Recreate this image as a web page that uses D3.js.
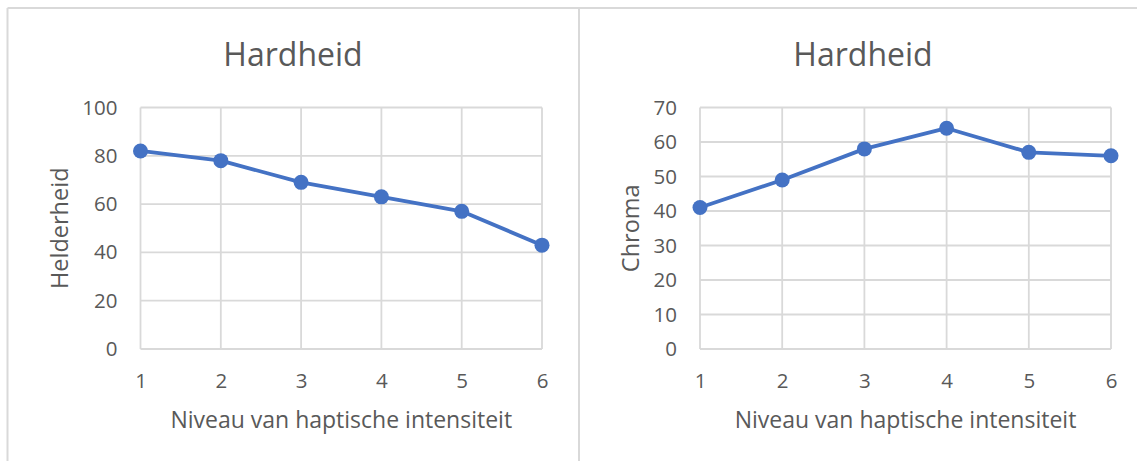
<!DOCTYPE html>
<html>
<head>
<meta charset="utf-8">
<script src="https://cdn.jsdelivr.net/npm/d3@7"></script>
<style>
  html, body { margin: 0; padding: 0; background: #fff; }
  svg { display: block; }
  text { font-family: "Open Sans", Lato, "Liberation Sans", sans-serif; fill: #595959; }
</style>
</head>
<body>
<svg id="chart" width="1137" height="461"></svg>
<script>
// Intensity levels shared by both panels
const levels = [1, 2, 3, 4, 5, 6];
const xTickLabels = ["1", "2", "3", "4", "5", "6"];

// Lightness (Helderheid) per intensity level
const helderheid = [82, 78, 69, 63, 57, 43];
const helderheidTicks = [0, 20, 40, 60, 80, 100];

// Chroma per intensity level
const chroma = [41, 49, 58, 64, 57, 56];
const chromaTicks = [0, 10, 20, 30, 40, 50, 60, 70];

const chartTitle = "Hardheid";
const xTitle = "Niveau van haptische intensiteit";

const svg = d3.select("#chart");
const gridColor = "#d9d9d9";
const lineColor = "#4472c4";
const fontStack = "'Open Sans', Lato, sans-serif";

// Frame around the two panels
svg.append("line").attr("x1", 7.5).attr("x2", 1137).attr("y1", 8).attr("y2", 8)
  .attr("stroke", gridColor).attr("stroke-width", 2);
svg.append("line").attr("x1", 7.5).attr("x2", 7.5).attr("y1", 8).attr("y2", 461)
  .attr("stroke", gridColor).attr("stroke-width", 2);
svg.append("line").attr("x1", 579).attr("x2", 579).attr("y1", 8).attr("y2", 461)
  .attr("stroke", gridColor).attr("stroke-width", 2);

function panel(cfg) {
  const g = svg.append("g");
  const x = d3.scaleLinear().domain([1, 6]).range([cfg.left, cfg.right]);
  const y = d3.scaleLinear().domain([0, cfg.max]).range([349, 107.5]);

  // Title
  g.append("text").attr("x", cfg.titleX).attr("y", 53)
    .attr("text-anchor", "middle").attr("dominant-baseline", "central")
    .attr("font-size", 32).text(chartTitle);

  // Horizontal gridlines
  g.append("g").selectAll("line").data(cfg.ticks).join("line")
    .attr("x1", cfg.left).attr("x2", cfg.right)
    .attr("y1", d => y(d)).attr("y2", d => y(d))
    .attr("stroke", gridColor).attr("stroke-width", 1.8);

  // Vertical gridlines
  g.append("g").selectAll("line").data(levels).join("line")
    .attr("x1", d => x(d)).attr("x2", d => x(d))
    .attr("y1", y(cfg.max)).attr("y2", y(0))
    .attr("stroke", gridColor).attr("stroke-width", 1.8);

  // Y tick labels
  const yAxis = d3.axisLeft(y).tickValues(cfg.ticks).tickSize(0).tickPadding(0);
  const ya = g.append("g").attr("transform", `translate(${cfg.left - 23},0)`).call(yAxis);
  ya.select(".domain").remove();
  ya.selectAll("text").attr("font-size", 20.5).attr("fill", "#595959")
    .attr("font-family", fontStack);

  // X tick labels
  const xAxis = d3.axisBottom(x).tickValues(levels).tickFormat((d, i) => xTickLabels[i])
    .tickSize(0).tickPadding(0);
  const xa = g.append("g").attr("transform", `translate(0,${y(0) + 24})`).call(xAxis);
  xa.select(".domain").remove();
  xa.selectAll("text").attr("font-size", 20.5).attr("fill", "#595959")
    .attr("font-family", fontStack);

  // Axis titles
  g.append("text").attr("x", (cfg.left + cfg.right) / 2).attr("y", 419)
    .attr("text-anchor", "middle").attr("dominant-baseline", "central")
    .attr("font-size", 23).text(xTitle);
  g.append("text")
    .attr("transform", `translate(${cfg.yTitleX},${(y(0) + y(cfg.max)) / 2}) rotate(-90)`)
    .attr("text-anchor", "middle").attr("dominant-baseline", "central")
    .attr("font-size", 23.5).text(cfg.yTitle);

  // Series line and markers
  const pts = levels.map((l, i) => [l, cfg.values[i]]);
  g.append("path").datum(pts)
    .attr("fill", "none").attr("stroke", lineColor).attr("stroke-width", 3.8)
    .attr("stroke-linejoin", "round")
    .attr("d", d3.line().x(d => x(d[0])).y(d => y(d[1])));
  g.append("g").selectAll("circle").data(pts).join("circle")
    .attr("cx", d => x(d[0])).attr("cy", d => y(d[1])).attr("r", 7.5)
    .attr("fill", lineColor);
}

panel({ left: 140.5, right: 542, max: 100, ticks: helderheidTicks, values: helderheid,
        titleX: 293, yTitleX: 59, yTitle: "Helderheid" });
panel({ left: 700, right: 1111, max: 70, ticks: chromaTicks, values: chroma,
        titleX: 863, yTitleX: 630, yTitle: "Chroma" });
</script>
</body>
</html>
